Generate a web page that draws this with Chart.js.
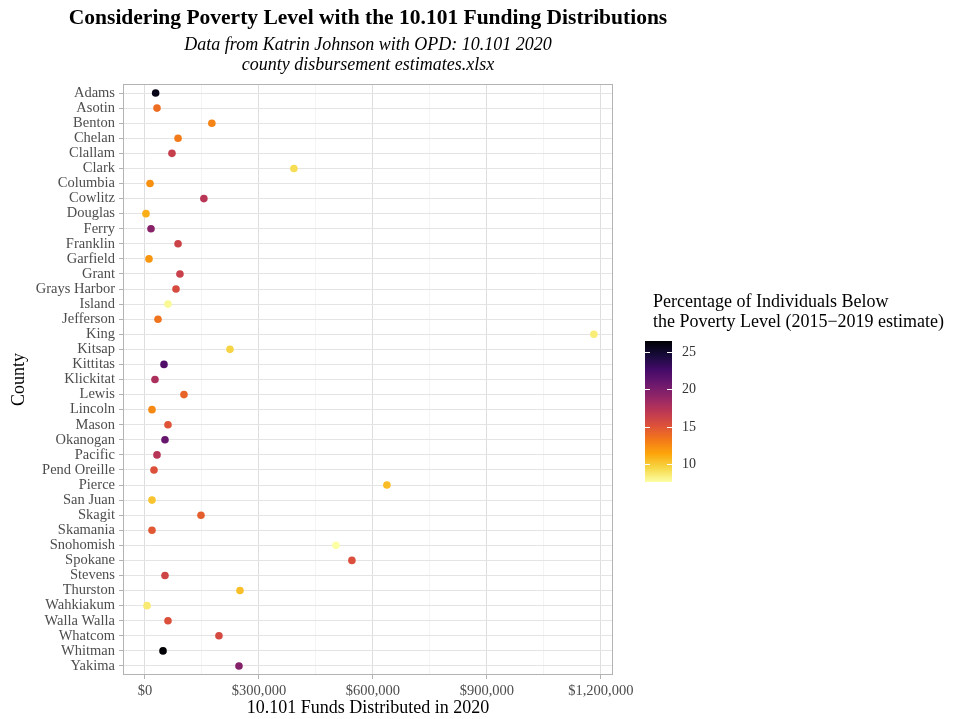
<!DOCTYPE html>
<html>
<head>
<meta charset="utf-8">
<script src="https://cdn.jsdelivr.net/npm/chart.js@4/dist/chart.umd.min.js"></script>
<style>
  html, body { margin: 0; padding: 0; background: #ffffff; }
  #wrap { width: 954px; height: 719px; }
</style>
</head>
<body>
<div id="wrap"><canvas id="c" width="954" height="719"></canvas></div>
<script>
// Washington counties, 10.101 funds distributed in 2020 and poverty rate (2015-2019 estimate)
const counties = [
  'Adams', 'Asotin', 'Benton', 'Chelan', 'Clallam', 'Clark', 'Columbia', 'Cowlitz',
  'Douglas', 'Ferry', 'Franklin', 'Garfield', 'Grant', 'Grays Harbor', 'Island',
  'Jefferson', 'King', 'Kitsap', 'Kittitas', 'Klickitat', 'Lewis', 'Lincoln', 'Mason',
  'Okanogan', 'Pacific', 'Pend Oreille', 'Pierce', 'San Juan', 'Skagit', 'Skamania',
  'Snohomish', 'Spokane', 'Stevens', 'Thurston', 'Wahkiakum', 'Walla Walla', 'Whatcom',
  'Whitman', 'Yakima'
];
const funds = [
  28000, 31600, 176000, 87000, 71000, 392000, 13200, 155000,
  2600, 15800, 87000, 10500, 92000, 81600, 60500,
  34200, 1181600, 223700, 50000, 26300, 102600, 18400, 60500,
  52600, 31600, 23700, 636800, 18400, 147400, 18400,
  502600, 544700, 52600, 250000, 5300, 60500, 194700,
  47400, 247400
];
const poverty = [
  25.8, 13.8, 12.8, 13.2, 16.5, 9.2, 12.2, 17.2,
  11.0, 19.5, 16.2, 12.0, 16.3, 15.6, 7.9,
  13.5, 8.5, 9.6, 22.0, 17.8, 14.2, 12.6, 15.0,
  21.0, 17.3, 15.2, 10.5, 10.2, 14.5, 14.8,
  7.6, 15.3, 16.0, 10.4, 8.6, 15.2, 15.7,
  26.5, 19.6
];
const xTicks = [0, 300000, 600000, 900000, 1200000];
const xMinorTicks = [150000, 450000, 750000, 1050000];
const legendTicks = [10, 15, 20, 25];

const titleText = 'Considering Poverty Level with the 10.101 Funding Distributions';
const subtitleLines = ['Data from Katrin Johnson with OPD: 10.101 2020', 'county disbursement estimates.xlsx'];
const legendTitleLines = ['Percentage of Individuals Below', 'the Poverty Level (2015\u22122019 estimate)'];

const SERIF = '"Liberation Serif", "Times New Roman", serif';

// inferno colour map, sampled at tenths
const infernoStops = ['#000004', '#160b39', '#420a68', '#6a176e', '#932667', '#bc3754',
                      '#dd513a', '#f37819', '#fca50a', '#f6d746', '#fcffa4'];
function hexToRgb(h) {
  return [parseInt(h.slice(1, 3), 16), parseInt(h.slice(3, 5), 16), parseInt(h.slice(5, 7), 16)];
}
function inferno(t) {
  t = Math.min(1, Math.max(0, t));
  const p = t * 10;
  const i = Math.min(9, Math.floor(p));
  const f = p - i;
  const a = hexToRgb(infernoStops[i]), b = hexToRgb(infernoStops[i + 1]);
  const c = a.map((v, k) => Math.round(v + (b[k] - v) * f));
  return `rgb(${c[0]},${c[1]},${c[2]})`;
}
const vMin = Math.min(...poverty);
const vMax = Math.max(...poverty);
// reversed scale: high poverty -> dark
const colourFor = v => inferno(1 - (v - vMin) / (vMax - vMin));

const fmtDollar = v => '$' + v.toLocaleString('en-US');

const decor = {
  id: 'decor',
  beforeDatasetsDraw(chart) {
    const { ctx, chartArea: a } = chart;
    ctx.save();
    ctx.strokeStyle = '#b3b3b3';
    ctx.lineWidth = 1;
    ctx.strokeRect(a.left + 0.5, a.top + 0.5, a.right - a.left - 1, a.bottom - a.top - 1);
    ctx.restore();
  },
  afterDraw(chart) {
    const { ctx, chartArea: a } = chart;
    const cx = (a.left + a.right) / 2;
    ctx.save();
    ctx.fillStyle = '#000';
    ctx.textAlign = 'center';
    ctx.textBaseline = 'middle';
    ctx.font = `bold 21.5px ${SERIF}`;
    ctx.fillText(titleText, cx, 18);
    ctx.font = `italic 18px ${SERIF}`;
    ctx.fillText(subtitleLines[0], cx, 45);
    ctx.fillText(subtitleLines[1], cx, 65);

    // colour bar legend
    const barX = 645, barW = 27, barTop = 341, barBottom = 482;
    ctx.textAlign = 'left';
    ctx.font = `18px ${SERIF}`;
    ctx.fillText(legendTitleLines[0], 653, 302);
    ctx.fillText(legendTitleLines[1], 653, 322);
    const g = ctx.createLinearGradient(0, barTop, 0, barBottom);
    for (let k = 0; k <= 40; k++) g.addColorStop(k / 40, inferno(k / 40));
    ctx.fillStyle = g;
    ctx.fillRect(barX, barTop, barW, barBottom - barTop);
    ctx.font = `14px ${SERIF}`;
    ctx.fillStyle = '#333';
    ctx.strokeStyle = '#ffffff';
    ctx.lineWidth = 1;
    legendTicks.forEach(v => {
      const y = Math.round(barTop + (vMax - v) / (vMax - vMin) * (barBottom - barTop)) + 0.5;
      ctx.beginPath();
      ctx.moveTo(barX, y); ctx.lineTo(barX + 5, y);
      ctx.moveTo(barX + barW - 5, y); ctx.lineTo(barX + barW, y);
      ctx.stroke();
      ctx.fillText(String(v), barX + barW + 10, y);
    });
    ctx.restore();
  }
};

new Chart(document.getElementById('c'), {
  type: 'scatter',
  data: {
    datasets: [{
      data: counties.map((c, i) => ({ x: funds[i], y: i })),
      backgroundColor: poverty.map(colourFor),
      borderWidth: 0,
      pointRadius: 3.8,
      pointHoverRadius: 3.8
    }]
  },
  options: {
    responsive: false,
    animation: false,
    events: [],
    layout: { padding: { top: 84, right: 341, bottom: 0, left: 0 } },
    plugins: { legend: { display: false }, tooltip: { enabled: false }, title: { display: false } },
    scales: {
      x: {
        type: 'linear',
        min: -57900,
        max: 1232000,
        afterBuildTicks: s => {
          s.ticks = [...xTicks, ...xMinorTicks].sort((p, q) => p - q).map(v => ({ value: v }));
        },
        afterFit: s => { s.height = 44; s.paddingLeft = 0; s.paddingRight = 0; },
        border: { display: false },
        grid: {
          color: c => xTicks.includes(c.tick.value) ? '#dedede' : '#efefef',
          lineWidth: c => xTicks.includes(c.tick.value) ? 1 : 0.7,
          tickColor: c => xTicks.includes(c.tick.value) ? '#b3b3b3' : 'rgba(0,0,0,0)',
          drawTicks: true,
          tickLength: 4
        },
        ticks: {
          autoSkip: false,
          maxRotation: 0,
          padding: 3,
          color: '#4d4d4d',
          font: { family: SERIF, size: 14.5 },
          callback: v => xTicks.includes(v) ? fmtDollar(v) : ''
        },
        title: {
          display: true,
          text: '10.101 Funds Distributed in 2020',
          color: '#000',
          font: { family: SERIF, size: 18 },
          padding: { top: 0, bottom: 0 }
        }
      },
      y: {
        type: 'linear',
        reverse: true,
        min: -0.6,
        max: counties.length - 1 + 0.6,
        afterBuildTicks: s => { s.ticks = counties.map((c, i) => ({ value: i })); },
        afterFit: s => { s.width = 123; s.paddingTop = 0; s.paddingBottom = 0; },
        border: { display: false },
        grid: {
          color: '#e4e4e4',
          lineWidth: 1,
          tickColor: '#b3b3b3',
          drawTicks: true,
          tickLength: 4
        },
        ticks: {
          autoSkip: false,
          padding: 4,
          color: '#4d4d4d',
          font: { family: SERIF, size: 14.5 },
          callback: v => counties[v]
        },
        title: {
          display: true,
          text: 'County',
          color: '#000',
          font: { family: SERIF, size: 18 },
          padding: { top: 8, bottom: 0 }
        }
      }
    }
  },
  plugins: [decor]
});
</script>
</body>
</html>
